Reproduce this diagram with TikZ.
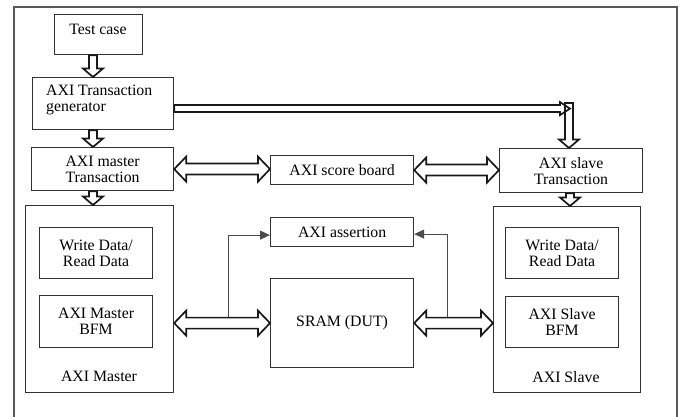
\documentclass[tikz,border=0pt]{standalone}
\usepackage{fontspec}
\setmainfont{Liberation Serif}
\usetikzlibrary{calc,arrows.meta}
\newcommand\downblk[2]{\draw[blk] let \p1=(#1), \p2=(#2) in (\x1-4pt,\y1) -- (\x1-4pt,\y2+8.5pt) -- (\x1-10pt,\y2+8.5pt) -- (\x1,\y2) -- (\x1+10pt,\y2+8.5pt) -- (\x1+4pt,\y2+8.5pt) -- (\x1+4pt,\y1) -- cycle;}
\newcommand\dblk[2]{\draw[blk] let \p1=(#1), \p2=(#2) in (\x1,\y1) -- (\x1+12pt,\y1+12.5pt) -- (\x1+12pt,\y1+5.5pt) -- (\x2-12pt,\y1+5.5pt) -- (\x2-12pt,\y1+12.5pt) -- (\x2,\y1) -- (\x2-12pt,\y1-12.5pt) -- (\x2-12pt,\y1-5.5pt) -- (\x1+12pt,\y1-5.5pt) -- (\x1+12pt,\y1-12.5pt) -- cycle;}
\begin{document}
\begin{tikzpicture}[x=1pt,y=-1pt,
  box/.style={draw=black!80, line width=1.2pt, inner sep=0pt, anchor=north west,
    font=\fontsize{15.8}{16}\selectfont, align=center},
  txt/.style={font=\fontsize{15.8}{16}\selectfont, align=center, inner sep=0pt},
  blk/.style={draw=black!90, line width=1.7pt, line join=miter},
  thinarr/.style={draw=black!70, line width=1pt, -{Triangle[length=10pt,width=9pt]}}]
\useasboundingbox (0,0) rectangle (683,417);
\draw[gray!70!black, line width=1.6pt] (14,417) -- (14,7) -- (677,7) -- (677,417);

% boxes
\node[box, minimum width=88pt, minimum height=40pt] (tc) at (54,14) {};
\node[txt] (tct) at (98,29) {Test case};
\node[box, minimum width=141pt, minimum height=52pt] (gen) at (32,77) {};
\node[txt, anchor=west, align=left] (gent) at (46,100) {AXI Transaction\\generator};
\node[box, minimum width=142pt, minimum height=43pt] (mt) at (31,147) {AXI master\\Transaction};
\node[box, minimum width=148pt, minimum height=187pt] (am) at (25,205) {};
\node[box, minimum width=113pt, minimum height=51pt] (wd1) at (39,227) {Write Data/\\Read Data};
\node[box, minimum width=113pt, minimum height=52pt] (bfm1) at (39,295) {AXI Master\\BFM};
\node[txt] (amt) at (99,376) {AXI Master};

\node[box, minimum width=143pt, minimum height=29pt] (sb) at (270,155) {AXI score board};
\node[box, minimum width=143pt, minimum height=29pt] (asr) at (270,217) {AXI assertion};
\node[box, minimum width=143pt, minimum height=89pt] (sram) at (270,278) {SRAM (DUT)};

\node[box, minimum width=143pt, minimum height=44pt] (st) at (499,148) {AXI slave\\Transaction};
\node[box, minimum width=147pt, minimum height=186pt] (as) at (493,206) {};
\node[box, minimum width=113pt, minimum height=51pt] (wd2) at (505,227) {Write Data/\\Read Data};
\node[box, minimum width=113pt, minimum height=51pt] (bfm2) at (505,296) {AXI Slave\\BFM};
\node[txt] (ast) at (566,377) {AXI Slave};

% helper coordinates
\coordinate (xl) at (93,0);
\coordinate (xr) at (570,0);
\coordinate (g1) at ($(gen.east)+(0,5)$);
\coordinate (vk) at (569,103);
\coordinate (j1) at (228,317);
\coordinate (j2) at (447,317);

% thin connectors to assertion
\draw[thinarr] (j1) |- ($(asr.west)+(0,3)$);
\draw[thinarr] (j2) |- ($(asr.east)+(0,2)$);

% block arrows
\downblk{tc.south -| xl}{gen.north -| xl}
\downblk{gen.south -| xl}{mt.north -| xl}
\downblk{mt.south -| xl}{am.north -| xl}
\downblk{st.south -| xr}{as.north -| xr}
\downblk{vk}{vk |- st.north}
\draw[blk] let \p1=(g1), \p2=(vk) in (\x1,\y1+3.5pt) -- (\x2-9pt,\y1+3.5pt) -- (\x2-9pt,\y1+6.5pt) -- (\x2+1pt,\y1) -- (\x2-9pt,\y1-6.5pt) -- (\x2-9pt,\y1-3.5pt) -- (\x1,\y1-3.5pt) -- cycle;

\dblk{mt.east}{sb.west}
\dblk{sb.east}{st.west}
\dblk{am.east |- sram.west}{sram.west}
\dblk{sram.east}{as.west |- sram.east}
\end{tikzpicture}
\end{document}
